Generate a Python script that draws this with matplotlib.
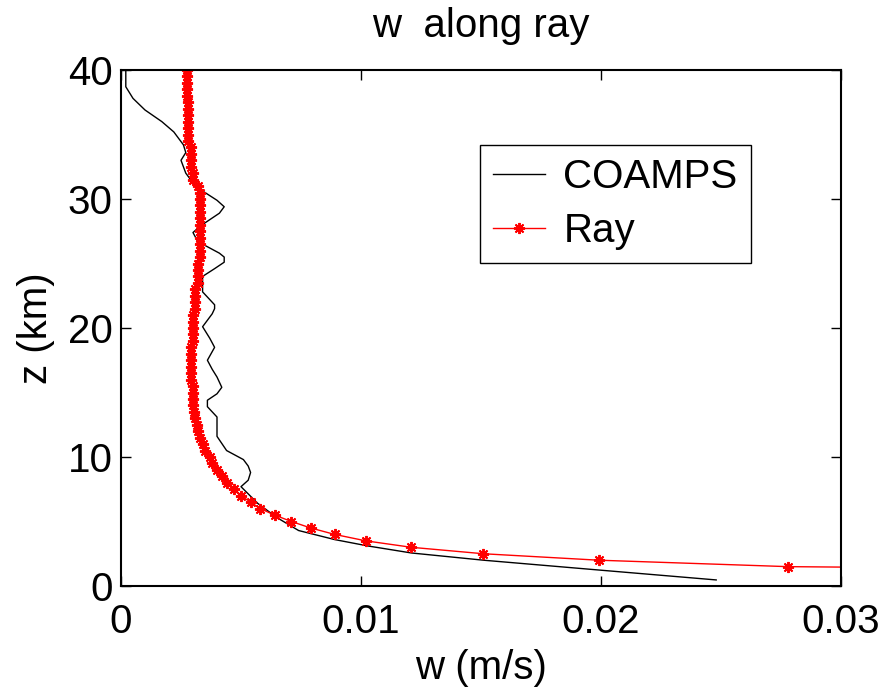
import matplotlib
matplotlib.use("Agg")
import matplotlib.pyplot as plt
from matplotlib.ticker import FixedLocator, FixedFormatter

plt.rcParams['font.family'] = ['Liberation Sans', 'DejaVu Sans']

# COAMPS profile (height km, w m/s)
coamps_z = [40.0, 38.7, 37.8, 36.9, 36.0, 35.2, 34.7, 34.2, 33.6, 33.3, 33.0,
            32.0, 31.5, 31.0, 30.5, 29.9, 29.4, 28.9, 28.4, 27.9, 27.4, 26.7,
            26.2, 25.8, 25.5, 25.1, 24.6, 24.0, 22.8, 22.2, 21.8, 21.5, 21.1,
            20.1, 19.2, 18.5, 17.5, 16.8, 16.2, 15.4, 14.9, 14.4, 13.9, 13.1,
            11.6, 10.5, 9.8, 9.3, 8.8, 8.2, 7.7, 6.4, 5.3, 4.3, 3.6, 3.1, 2.56,
            2.0, 1.24, 0.47]
coamps_w = [0.0002, 0.0002, 0.0005, 0.0010, 0.0017, 0.0022, 0.0024, 0.0026,
            0.0027, 0.0026, 0.0025, 0.0027, 0.0029, 0.0031, 0.0035, 0.0040,
            0.0043, 0.0041, 0.0037, 0.0033, 0.0030, 0.0032, 0.0037, 0.0041,
            0.0043, 0.0043, 0.0039, 0.0034, 0.0034, 0.0037, 0.0039, 0.0039,
            0.0038, 0.0034, 0.0037, 0.0039, 0.0036, 0.0038, 0.0040, 0.0042,
            0.0040, 0.0036, 0.0036, 0.0040, 0.0040, 0.0044, 0.0051, 0.0053,
            0.0054, 0.0053, 0.0050, 0.0057, 0.0065, 0.0074, 0.0089, 0.0103,
            0.0121, 0.0151, 0.0199, 0.0248]

# ray solution, every 0.5 km from 1 to 40 km
ray_z = [1.0, 1.5, 2.0, 2.5, 3.0, 3.5, 4.0, 4.5, 5.0, 5.5, 6.0, 6.5, 7.0,
         7.5, 8.0, 8.5, 9.0, 9.5, 10.0, 10.5, 11.0, 11.5, 12.0, 12.5, 13.0,
         13.5, 14.0, 14.5, 15.0, 15.5, 16.0, 16.5, 17.0, 17.5, 18.0, 18.5,
         19.0, 19.5, 20.0, 20.5, 21.0, 21.5, 22.0, 22.5, 23.0, 23.5, 24.0,
         24.5, 25.0, 25.5, 26.0, 26.5, 27.0, 27.5, 28.0, 28.5, 29.0, 29.5,
         30.0, 30.5, 31.0, 31.5, 32.0, 32.5, 33.0, 33.5, 34.0, 34.5, 35.0,
         35.5, 36.0, 36.5, 37.0, 37.5, 38.0, 38.5, 39.0, 39.5, 40.0]
ray_w = [0.0600, 0.0278, 0.0199, 0.0151, 0.0121, 0.0102, 0.0089, 0.0079,
         0.0071, 0.0064, 0.0058, 0.0054, 0.0050, 0.0047, 0.0044, 0.0042,
         0.0040, 0.0038, 0.0037, 0.0035, 0.0034, 0.0033, 0.0032, 0.00315,
         0.0031, 0.00305, 0.0030, 0.0030, 0.0030, 0.0030, 0.0029, 0.0029,
         0.0029, 0.0029, 0.0029, 0.0029, 0.0030, 0.0030, 0.0030, 0.0030,
         0.0030, 0.0031, 0.0031, 0.0031, 0.0031, 0.0032, 0.0032, 0.0032,
         0.0032, 0.0033, 0.0033, 0.0033, 0.0033, 0.0033, 0.0033, 0.0033,
         0.0033, 0.0033, 0.0033, 0.0033, 0.0032, 0.0030, 0.0030, 0.0029,
         0.0029, 0.0029, 0.0029, 0.0028, 0.0028, 0.0028, 0.0028, 0.0028,
         0.0028, 0.0028, 0.00275, 0.00275, 0.00275, 0.00275, 0.00275]

x_ticks = [0, 0.01, 0.02, 0.03]
x_labels = ['0', '0.01', '0.02', '0.03']
y_ticks = [0, 10, 20, 30, 40]

fs = 29

fig = plt.figure(figsize=(8.94, 6.91), dpi=100)
ax = fig.add_axes([121 / 894, 1 - 586 / 691, 720 / 894, 516 / 691])

ax.plot(coamps_w, coamps_z, color='black', lw=1.0, label='COAMPS')
ax.plot(ray_w, ray_z, color='red', lw=1.0, marker=(8, 2, 0), markersize=8,
        markeredgewidth=1.4, label='Ray')

ax.set_xlim(0, 0.03)
ax.set_ylim(0, 40)
ax.xaxis.set_major_locator(FixedLocator(x_ticks))
ax.xaxis.set_major_formatter(FixedFormatter(x_labels))
ax.set_yticks(y_ticks)

ax.tick_params(direction='in', length=7, width=1, labelsize=fs,
               top=True, right=True)
ax.tick_params(axis='x', pad=12)
ax.tick_params(axis='y', pad=6)
for s in ax.spines.values():
    s.set_linewidth(1.5)

ax.set_title('w  along ray', fontsize=fs, pad=24)
ax.set_xlabel('w (m/s)', fontsize=fs, labelpad=6)
ax.set_ylabel('z (km)', fontsize=fs, labelpad=9)

leg = ax.legend(loc='upper left', bbox_to_anchor=(0.4986, 0.855), fontsize=fs,
                fancybox=False, framealpha=1, edgecolor='black',
                handlelength=1.3, handletextpad=0.45, borderpad=0.32,
                labelspacing=0.4, borderaxespad=0)
leg.get_frame().set_linewidth(1.0)

fig.savefig('out.png', dpi=100)
